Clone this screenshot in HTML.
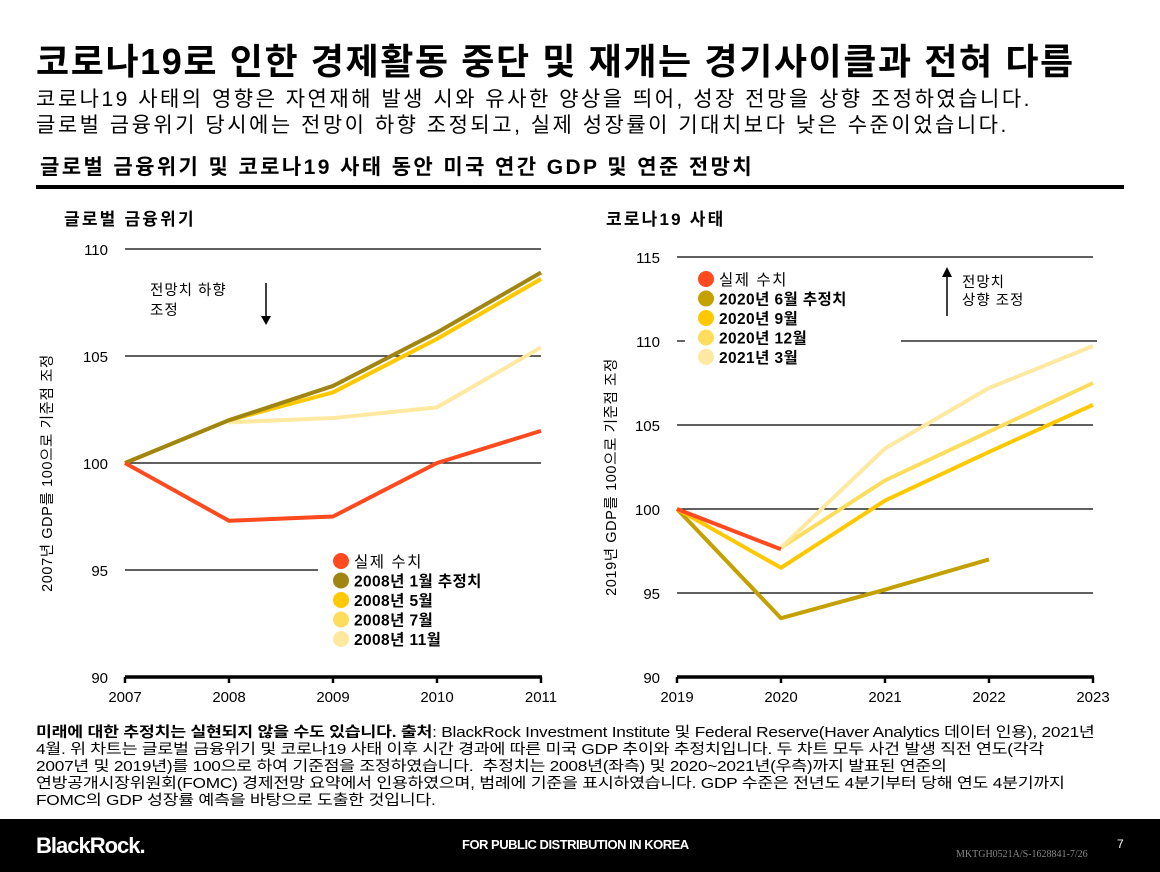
<!DOCTYPE html>
<html><head><meta charset="utf-8">
<style>
body{margin:0;width:1160px;height:872px;background:#fff;font-family:"Liberation Sans","Noto Sans CJK KR",sans-serif;position:relative;overflow:hidden;color:#000}
.abs{position:absolute;white-space:nowrap}
#title{left:36px;top:33px;font-size:36px;font-weight:bold;letter-spacing:1.6px}
.sub{left:36px;font-size:21px;letter-spacing:2.5px}
#sec{left:40px;top:151px;font-size:21px;font-weight:bold;letter-spacing:2.4px}
#rule{left:36px;top:185px;width:1088px;height:4px;background:#000}
.ct{font-size:17px;font-weight:bold;letter-spacing:2.2px}
#note{left:36px;top:725px;font-size:14.5px;line-height:17px;letter-spacing:-0.2px;transform:scaleX(1.19);transform-origin:0 0}
#footer{left:0;top:819px;width:1160px;height:53px;background:#000}
svg text{font-family:"Liberation Sans","Noto Sans CJK KR",sans-serif}
</style></head><body>
<div class="abs" id="title">코로나19로 인한 경제활동 중단 및 재개는 경기사이클과 전혀 다름</div>
<div class="abs sub" style="top:83px">코로나19 사태의 영향은 자연재해 발생 시와 유사한 양상을 띄어, 성장 전망을 상향 조정하였습니다.</div>
<div class="abs sub" style="top:109px">글로벌 금융위기 당시에는 전망이 하향 조정되고, 실제 성장률이 기대치보다 낮은 수준이었습니다.</div>
<div class="abs" id="sec">글로벌 금융위기 및 코로나19 사태 동안 미국 연간 GDP 및 연준 전망치</div>
<div class="abs" id="rule"></div>
<div class="abs ct" style="left:64px;top:205px">글로벌 금융위기</div>
<div class="abs ct" style="left:606px;top:205px">코로나19 사태</div>

<svg id="chart" class="abs" style="left:0;top:0" width="1160" height="720"></svg>

<div class="abs" id="note"><b>미래에 대한 추정치는 실현되지 않을 수도 있습니다. 출처</b>: BlackRock Investment Institute 및 Federal Reserve(Haver Analytics 데이터 인용), 2021년<br>4월. 위 차트는 글로벌 금융위기 및 코로나19 사태 이후 시간 경과에 따른 미국 GDP 추이와 추정치입니다. 두 차트 모두 사건 발생 직전 연도(각각<br>2007년 및 2019년)를 100으로 하여 기준점을 조정하였습니다. &nbsp;추정치는 2008년(좌측) 및 2020~2021년(우측)까지 발표된 연준의<br>연방공개시장위원회(FOMC) 경제전망 요약에서 인용하였으며, 범례에 기준을 표시하였습니다. GDP 수준은 전년도 4분기부터 당해 연도 4분기까지<br>FOMC의 GDP 성장률 예측을 바탕으로 도출한 것입니다.</div>
<div class="abs" id="footer">
<div class="abs" style="left:36px;top:14px;color:#fff;font-size:22px;font-weight:bold;letter-spacing:-1px">BlackRock.</div>
<div class="abs" style="left:462px;top:18px;color:#fff;font-size:13px;font-weight:bold;letter-spacing:-0.5px">FOR PUBLIC DISTRIBUTION IN KOREA</div>
<div class="abs" style="left:956px;top:30px;color:#888;font-size:10px;font-family:'Liberation Serif',serif">MKTGH0521A/S-1628841-7/26</div>
<div class="abs" style="left:1117px;top:18px;color:#fff;font-size:12px">7</div>
</div>

<script>
const leftYears=[2007,2008,2009,2010,2011];
const leftTicks=[90,95,100,105,110];
const leftActual=[100,97.3,97.5,100,101.5];
const leftJan08=[100,102,103.6,106.1,108.9];
const leftMay08=[100,102,103.3,105.8,108.6];
const leftJul08=[100,102,103.3,105.8,108.6];
const leftNov08=[null,101.9,102.1,102.6,105.4];
const leftLegend=["실제 수치","2008년 1월 추정치","2008년 5월","2008년 7월","2008년 11월"];

const rightYears=[2019,2020,2021,2022,2023];
const rightTicks=[90,95,100,105,110,115];
const rightActual=[100,97.6,null,null,null];
const rightJun20=[100,93.5,95.2,97.0,null];
const rightSep20=[100,96.5,100.5,103.4,106.2];
const rightDec20=[null,97.7,101.7,104.6,107.5];
const rightMar21=[null,97.7,103.6,107.2,109.7];
const rightLegend=["실제 수치","2020년 6월 추정치","2020년 9월","2020년 12월","2021년 3월"];

const NS="http://www.w3.org/2000/svg";
const svg=document.getElementById('chart');
function mk(tag,attrs,parent){const e=document.createElementNS(NS,tag);for(const k in attrs)e.setAttribute(k,attrs[k]);(parent||svg).appendChild(e);return e;}

function drawChart(cfg){
  const g=mk('g',{});
  
  
  const x=i=>cfg.x0+(cfg.x1-cfg.x0)*i/(cfg.years.length-1);
  const y=v=>cfg.yBot-(v-cfg.vMin)*(cfg.yBot-cfg.yTop)/(cfg.vMax-cfg.vMin);
  cfg.ticks.forEach(t=>{
    if(t>cfg.vMin){
      const seg=(cfg.gridSeg&&cfg.gridSeg[t])||[[cfg.x0,cfg.x1]];
      seg.forEach(s=>{const l=mk('line',{x1:s[0],x2:s[1],y1:y(t),y2:y(t),stroke:'#000','stroke-width':1.2},g);
      });
    }
    const tx=mk('text',{x:cfg.x0-17,y:y(t)+6,'text-anchor':'end','font-size':15},g);
    tx.textContent=t;
    
  });
  const ax=mk('line',{x1:cfg.x0,x2:cfg.x1+1,y1:cfg.yBot,y2:cfg.yBot,stroke:'#000','stroke-width':3.5},g);
  
  cfg.years.forEach((yr,i)=>{
    mk('line',{x1:x(i),x2:x(i),y1:cfg.yBot,y2:cfg.yBot+6,stroke:'#000','stroke-width':2.5},g);
    const tx=mk('text',{x:x(i),y:cfg.yBot+25,'text-anchor':'middle','font-size':15},g);
    tx.textContent=yr;
    
  });
  cfg.drawOrder.forEach(si=>{
    const s=cfg.series[si];
    const pts=[];s.data.forEach((v,i)=>{if(v!==null)pts.push(x(i)+','+y(v));});
    const p=mk('polyline',{points:pts.join(' '),fill:'none',stroke:s.color,'stroke-width':4,'stroke-linejoin':'round'},g);
    
  });
  cfg.series.forEach((s,si)=>{
    const ly=cfg.legY+si*19.5;
    const c=mk('circle',{cx:cfg.legX,cy:ly,r:8,fill:s.color},g);
    
    const t=mk('text',{x:cfg.legX+13,y:ly+6,'font-size':15.5,'letter-spacing':si===0?1.5:0.4,'font-weight':si===0?'normal':'bold'},g);
    t.textContent=cfg.legend[si];
    
  });
  const yt=mk('text',{transform:`translate(${cfg.ylx},${(cfg.yTop+cfg.yBot)/2+10}) rotate(-90)`,'text-anchor':'middle','font-size':14.5,'letter-spacing':0.6},g);
  yt.textContent=cfg.ylabel;
  
}
const C={act:'#ff4a1f',dark:'#a08512',gold:'#c4a100',y1:'#ffc800',y2:'#ffdd5c',y3:'#ffe9a0'};
drawChart({name:'left-chart',years:leftYears,ticks:leftTicks,x0:125,x1:541,yTop:249,yBot:677,vMin:90,vMax:110,
  gridSeg:{95:[[125,318]]},legX:341,legY:561,legend:leftLegend,ylx:52,ylabel:'2007년 GDP를 100으로 기준점 조정',
  drawOrder:[4,3,2,1,0],
  series:[{data:leftActual,color:C.act},{data:leftJan08,color:C.dark},{data:leftMay08,color:C.y1},{data:leftJul08,color:C.y2},{data:leftNov08,color:C.y3}]});
drawChart({name:'right-chart',years:rightYears,ticks:rightTicks,x0:677,x1:1093,yTop:257,yBot:677,vMin:90,vMax:115,
  gridSeg:{110:[[677,685],[901,1097]]},legX:706,legY:279,legend:rightLegend,ylx:616,ylabel:'2019년 GDP를 100으로 기준점 조정',
  drawOrder:[1,2,3,4,0],
  series:[{data:rightActual,color:C.act},{data:rightJun20,color:C.gold},{data:rightSep20,color:C.y1},{data:rightDec20,color:C.y2},{data:rightMar21,color:C.y3}]});
</script>
<svg class="abs" style="left:0;top:0" width="1160" height="720">
<text x="150" y="295" font-size="14.5" letter-spacing="1">전망치 하향</text>
<text x="150" y="315" font-size="14.5" letter-spacing="1">조정</text>
<line x1="266" y1="283" x2="266" y2="318" stroke="#000" stroke-width="1.5"/>
<polygon points="261,316 271,316 266,325" fill="#000"/>
<text x="962" y="287" font-size="14.5" letter-spacing="1">전망치</text>
<text x="962" y="305" font-size="14.5" letter-spacing="1">상향 조정</text>
<line x1="947" y1="275" x2="947" y2="316" stroke="#000" stroke-width="1.5"/>
<polygon points="942,277 952,277 947,267" fill="#000"/>
</svg>
</body></html>
